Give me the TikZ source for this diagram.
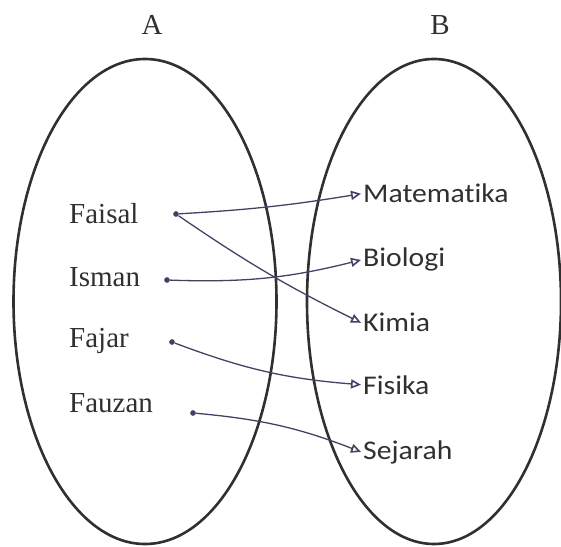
\documentclass[tikz,border=0pt]{standalone}
\usepackage{fontspec}
\setmainfont{Liberation Serif}
\newfontfamily\subjectfont[FakeStretch=1.1, Ligatures=NoCommon]{Carlito}
\usetikzlibrary{arrows.meta}
\definecolor{ink}{RGB}{48,48,48}
\definecolor{pen}{RGB}{66,66,100}

\begin{document}
\begin{tikzpicture}[x=1pt, y=1pt,
  setline/.style={ink, line width=2.6pt},
  setname/.style={anchor=base, inner sep=0pt, text=ink, font=\fontsize{29}{29}\selectfont},
  member/.style={anchor=base west, inner sep=0pt, text=ink, font=\fontsize{29}{29}\selectfont},
  subject/.style={anchor=base west, inner sep=2pt, text=ink, font=\subjectfont\fontsize{27}{27}\selectfont},
  pendot/.style={circle, fill=pen, inner sep=2pt},
  pair/.style={pen, line width=1.3pt, -{Triangle[open, length=10pt, width=9pt, line width=1.6pt]}}]
\useasboundingbox (0,0) rectangle (561,546);
\begin{scope}
  % the two sets
  \draw[setline] (145,244.5) ellipse [x radius=131.5, y radius=242.5];
  \draw[setline] (434,244.5) ellipse [x radius=127, y radius=242.5];
  \node[setname] (setA) at (152,511) {A};
  \node[setname] (setB) at (440,511) {B};
\end{scope}
\begin{scope}
  \node[member] (faisal) at (69,322) {Faisal};
  \node[member] (isman) at (69,259) {Isman};
  \node[member] (fajar) at (69,198) {Fajar};
  \node[member] (fauzan) at (69,134) {Fauzan};
  \node[pendot] (faisaldot) at (176,332) {};
  \node[pendot] (ismandot) at (167,266) {};
  \node[pendot] (fajardot) at (172,204) {};
  \node[pendot] (fauzandot) at (193,133) {};
\end{scope}
\begin{scope}
  \node[subject] (mat) at (361,343) {Matematika};
  \node[subject] (bio) at (361,279) {Biologi};
  \node[subject] (kim) at (361,214) {Kimia};
  \node[subject] (fis) at (361,152) {Fisika};
  \node[subject] (sej) at (361,87) {Sejarah};
\end{scope}
\draw[pair] (faisaldot) to[bend right=3] (mat.west);
\draw[pair] (faisaldot) to[bend right=4] (kim.west);
\draw[pair] (ismandot) to[bend right=8] (bio.west);
\draw[pair] (fajardot) to[bend right=8] (fis.west);
\draw[pair] (fauzandot) to[bend left=8] (sej.west);
\end{tikzpicture}
\end{document}
